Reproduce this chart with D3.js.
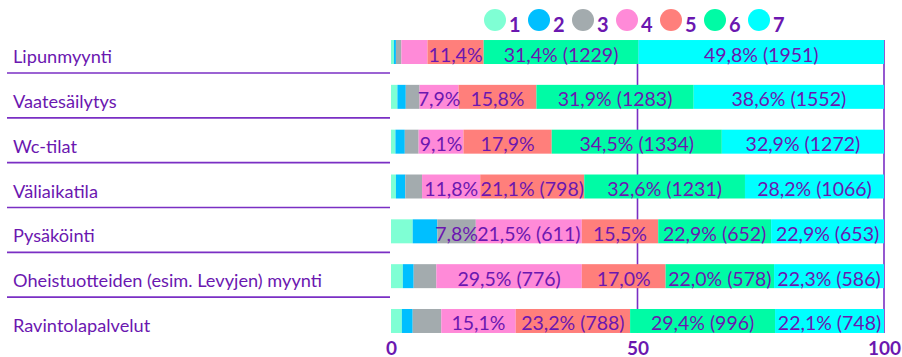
<!DOCTYPE html>
<html>
<head>
<meta charset="utf-8">
<script src="https://cdn.jsdelivr.net/npm/d3@7"></script>
<style>
  html, body { margin: 0; padding: 0; background: #ffffff; }
  svg { display: block; font-family: Lato, "Open Sans", sans-serif; }
</style>
</head>
<body>
<svg id="chart" width="902" height="357"></svg>
<script>
// Rating categories 1–7 (legend keys)
const keys = ["1", "2", "3", "4", "5", "6", "7"];
const colors = ["#7fffd4", "#00bfff", "#a3abae", "#ff8ad8", "#ff7f7b", "#00fba5", "#00ffff"];

const categories = [
  "Lipunmyynti",
  "Vaatesäilytys",
  "Wc-tilat",
  "Väliaikatila",
  "Pysäköinti",
  "Oheistuotteiden (esim. Levyjen) myynti",
  "Ravintolapalvelut"
];

// Share of answers (%) per rating, one array per rating
const share1 = [0.6, 1.3, 0.9, 1.0, 4.4, 2.4, 2.2];
const share2 = [0.4, 1.7, 1.9, 1.9, 5.0, 2.2, 2.2];
const share3 = [1.1, 2.8, 2.8, 3.4, 7.8, 4.6, 5.8];
const share4 = [5.3, 7.9, 9.1, 11.8, 21.5, 29.5, 15.1];
const share5 = [11.4, 15.8, 17.9, 21.1, 15.5, 17.0, 23.2];
const share6 = [31.4, 31.9, 34.5, 32.6, 22.9, 22.0, 29.4];
const share7 = [49.8, 38.6, 32.9, 28.2, 22.9, 22.3, 22.1];

// Answer counts shown next to the wider segments (null = not shown)
const count3 = [null, null, null, null, null, null, null];
const count4 = [null, null, null, null, 611, 776, null];
const count5 = [null, null, null, 798, null, null, 788];
const count6 = [1229, 1283, 1334, 1231, 652, 578, 996];
const count7 = [1951, 1552, 1272, 1066, 653, 586, 748];

const xTicks = [0, 50, 100];

const shares = [share1, share2, share3, share4, share5, share6, share7];
const counts = [null, null, count3, count4, count5, count6, count7];

const textColor = "#6b17b0";
const lineColor = "#7a2fc4";

const svg = d3.select("#chart");

const x = d3.scaleLinear().domain([0, 100]).range([391, 884]);
const y = d3.scaleBand()
  .domain(categories)
  .range([29.6, 343.4])
  .paddingInner(0.465)
  .paddingOuter(0.2325);

// Build stacked rows
const rows = categories.map((c, i) => {
  const r = { category: c };
  keys.forEach((k, j) => { r[k] = shares[j][i]; });
  return r;
});
const stack = d3.stack().keys(keys)(rows);

// Gridlines at 50 and 100
svg.append("g")
  .selectAll("line")
  .data(xTicks.filter(t => t > 0))
  .join("line")
  .attr("x1", d => x(d)).attr("x2", d => x(d))
  .attr("y1", y(categories[0]))
  .attr("y2", y(categories[categories.length - 1]) + y.bandwidth())
  .attr("stroke", lineColor)
  .attr("stroke-width", 1.6);

// Bars
const layers = svg.append("g")
  .selectAll("g")
  .data(stack)
  .join("g")
  .attr("fill", (d, i) => colors[i]);

layers.selectAll("rect")
  .data(d => d)
  .join("rect")
  .attr("x", d => x(d[0]))
  .attr("y", d => y(d.data.category))
  .attr("width", d => x(d[1]) - x(d[0]))
  .attr("height", y.bandwidth());

// Segment value labels
const fmt = v => v.toFixed(1).replace(".", ",") + "%";
const labelLayer = svg.append("g")
  .attr("font-size", 19.5)
  .attr("fill", textColor)
  .attr("text-anchor", "middle");

stack.forEach((layer, j) => {
  layer.forEach((d, i) => {
    const v = shares[j][i];
    if (v < 7) return;
    const cnt = counts[j] ? counts[j][i] : null;
    const txt = cnt != null ? `${fmt(v)} (${cnt})` : fmt(v);
    labelLayer.append("text")
      .attr("x", (x(d[0]) + x(d[1])) / 2)
      .attr("y", y(categories[i]) + y.bandwidth() / 2 + 9.5)
      .text(txt);
  });
});

// Category labels with underline
const catG = svg.append("g");
categories.forEach((c, i) => {
  const cy = y(c) + y.bandwidth() / 2;
  catG.append("text")
    .attr("x", 13)
    .attr("y", cy + 11)
    .attr("font-size", 18.2)
    .attr("fill", textColor)
    .text(c);
  if (i < categories.length - 1) {
    catG.append("line")
      .attr("x1", 7).attr("x2", 390)
      .attr("y1", cy + 21).attr("y2", cy + 21)
      .attr("stroke", lineColor)
      .attr("stroke-width", 1.6);
  }
});

// X axis tick labels
const axis = d3.axisBottom(x).tickValues(xTicks).tickSize(0).tickPadding(0);
const axG = svg.append("g")
  .attr("transform", "translate(0,341)")
  .call(axis);
axG.select(".domain").remove();
axG.selectAll("text")
  .attr("font-family", "Lato, sans-serif")
  .attr("font-size", 19)
  .attr("font-weight", "bold")
  .attr("fill", textColor)
  .attr("dy", "0.71em");

// Legend
const legend = svg.append("g");
keys.forEach((k, j) => {
  const cx = 495 + j * 44;
  legend.append("circle")
    .attr("cx", cx).attr("cy", 20).attr("r", 11)
    .attr("fill", colors[j]);
  legend.append("text")
    .attr("x", cx + 14).attr("y", 32)
    .attr("font-size", 20)
    .attr("font-weight", "bold")
    .attr("fill", textColor)
    .text(k);
});
</script>
</body>
</html>
